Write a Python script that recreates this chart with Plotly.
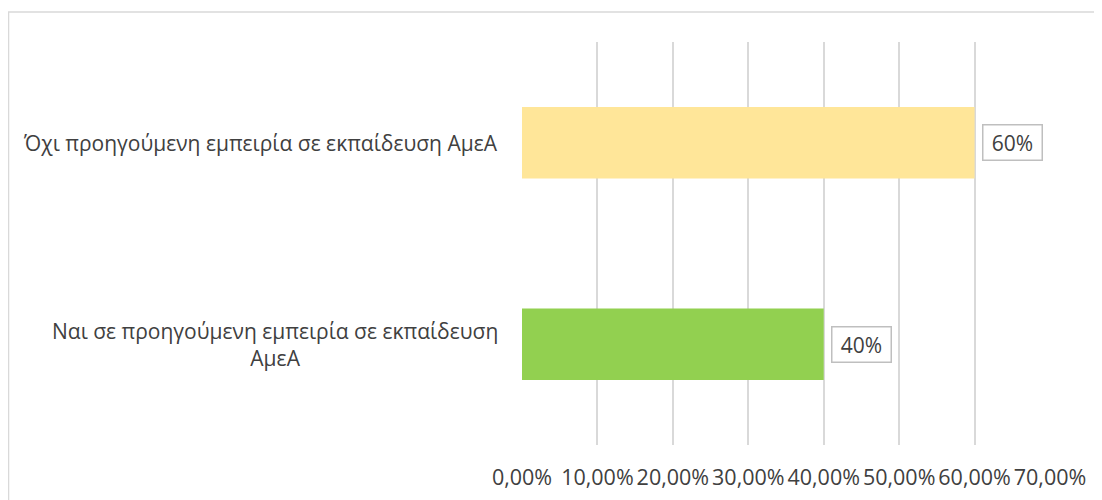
import plotly.graph_objects as go

categories = ["Ναι σε προηγούμενη εμπειρία σε εκπαίδευση ΑμεΑ",
              "Όχι προηγούμενη εμπειρία σε εκπαίδευση ΑμεΑ"]
label_text = ["Ναι σε προηγούμενη εμπειρία σε εκπαίδευση<br>ΑμεΑ",
              "Όχι προηγούμενη εμπειρία σε εκπαίδευση ΑμεΑ"]
values = [0.40, 0.60]
colors = ["#92D050", "#FFE699"]
tick_vals = [0, 0.1, 0.2, 0.3, 0.4, 0.5, 0.6, 0.7]

FONT = "Open Sans"
TXT = "#404040"

fig = go.Figure()
fig.add_trace(go.Bar(
    x=values, y=[0, 1], orientation="h",
    marker=dict(color=colors, line=dict(width=0)),
    width=0.355, hoverinfo="skip",
))

annotations = []
for i, (lab, v) in enumerate(zip(label_text, values)):
    annotations.append(dict(
        x=0, xref="paper", y=i, yref="y", text=lab, showarrow=False,
        xanchor="right", yanchor="middle", xshift=-22, align="center",
        font=dict(family=FONT, size=21, color=TXT)))
    annotations.append(dict(
        x=v, xref="x", y=i, yref="y", text=f"{int(round(v*100))}%", showarrow=False,
        xanchor="left", yanchor="middle", xshift=7, align="center",
        width=52, height=28,
        bgcolor="white", bordercolor="#BFBFBF", borderwidth=1.5, borderpad=3,
        font=dict(family=FONT, size=21, color=TXT)))

# page body adds an 8px offset; margins compensate
fig.update_layout(
    width=1102, height=500,
    margin=dict(l=514, r=60, t=34, b=63, autoexpand=False),
    paper_bgcolor="white", plot_bgcolor="white",
    separators=",.",
    showlegend=False,
    annotations=annotations,
    shapes=[dict(type="rect", xref="paper", yref="paper",
                 x0=-0.9725, x1=1.2, y0=-0.3, y1=1.0744,
                 line=dict(color="#D9D9D9", width=1.5), fillcolor="rgba(0,0,0,0)",
                 layer="below")],
    xaxis=dict(range=[0, 0.7], tickvals=tick_vals, tickformat=".2%",
               showgrid=True, gridcolor="#D9D9D9", gridwidth=1.5,
               zeroline=False, showline=False, ticks="",
               ticklabelstandoff=17, automargin=False,
               tickfont=dict(family=FONT, size=21.5, color=TXT)),
    yaxis=dict(range=[-0.5, 1.5], showticklabels=False, showgrid=False,
               zeroline=False, showline=False, ticks="", automargin=False),
)

fig.write_html("out.html")
